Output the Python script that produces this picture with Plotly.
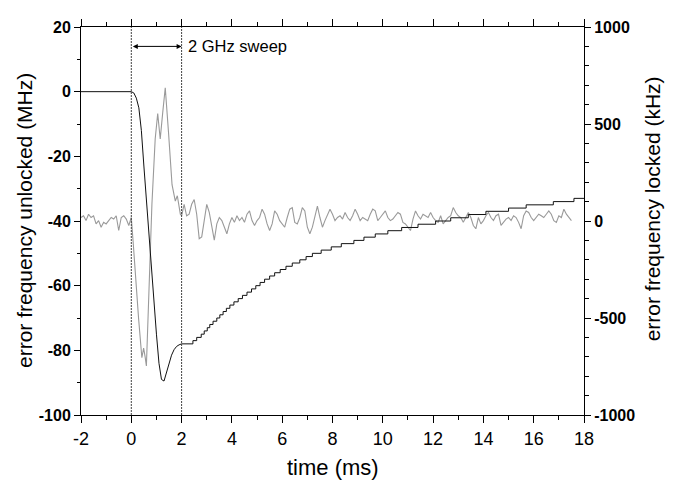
import plotly.graph_objects as go

# ---- data ----
# unlocked laser: error frequency in MHz (left axis)
unlocked_t = [-2.0, 0.0, 0.1, 0.2, 0.3, 0.4, 0.5, 0.6, 0.7, 0.8, 0.9, 1.0, 1.1,
              1.2, 1.3, 1.4, 1.5, 1.6, 1.7, 1.8, 1.9, 2.0]
unlocked_mhz = [0, 0, -0.4, -2, -5, -12, -23, -34, -45, -55, -65, -75, -84,
                -89, -89.5, -87, -84, -81.5, -79.8, -78.8, -78.3, -78]

step_t = [2.0, 2.45, 2.6, 2.78, 2.9, 3.02, 3.12, 3.25, 3.4, 3.52, 3.65, 3.78,
          3.92, 4.08, 4.25, 4.42, 4.6, 4.78, 4.95, 5.12, 5.3, 5.5, 5.7, 5.92,
          6.15, 6.4, 6.7, 6.95, 7.2, 7.55, 7.95, 8.35, 8.85, 9.25, 9.7, 10.2,
          10.75, 11.4, 12.1, 12.7, 13.4, 14.1, 15.0, 15.7, 16.78, 17.6, 18.0]
step_mhz = [-78, -77, -76, -75, -74, -73, -72, -71, -70, -69, -68, -67,
            -66, -65, -64, -63, -62, -61, -60, -59, -58, -57, -56, -55,
            -54, -53, -52, -51, -50, -49, -48, -47, -46, -45, -44, -43,
            -42, -41, -40, -39, -38, -37, -36, -35, -34, -33, -33]

# locked laser: error frequency in kHz (right axis)
dt = 0.1
pre_t0 = -2.0
locked_pre = [18, 27, 2, 35, 18, 27, -15, 2, -32, -7, -15, 2, 18, 10, 27, -49,
              18, 27, 10, -23, 18]
sweep_t = [0.08, 0.17, 0.29, 0.42, 0.49, 0.55, 0.6, 0.82, 0.95, 1.05, 1.15,
           1.25, 1.35, 1.48, 1.62, 1.75, 1.83, 1.95]
sweep_khz = [-120, -310, -503, -705, -655, -700, -747, 86, 423, 554, 423,
             560, 687, 456, 187, 103, 130, 35]
post_t0 = 2.0
locked_post = [27, 86, 27, 35, 86, 111, 35, -91, -82, 2,
               86, 44, -32, -99, -15, 18, 2, -32, -66, -15,
               18, -7, 27, 2, 18, -7, 35, 52, 2, -23,
               2, 18, 61, 35, -15, -49, -15, 52, 35, 2,
               -15, -32, 18, 61, 69, -7, -15, 18, 69, 52,
               -32, -66, -32, 27, 77, 18, -32, 2, 35, 61,
               35, 2, 18, 27, 10, 44, 18, 2, 27, 61,
               35, 2, 18, 10, 2, 35, 61, 52, 2, 18,
               35, 52, 18, 2, 10, 27, 44, 35, -7, -15,
               -32, -49, 10, 52, 27, 10, 35, 27, 18, 44,
               18, 2, -7, 27, -15, 2, 18, 27, 69, 44,
               27, 18, -7, 18, 44, 18, -23, -40, 18, -15,
               2, 27, 44, 18, 2, 27, 35, -23, -7, 10,
               18, 2, 27, 18, -7, -40, 27, 52, 44, 18,
               2, 18, 35, 27, 18, 35, 52, 35, 2, -7,
               27, 18, 61, 35, 18, 2]

locked_t = ([round(pre_t0 + dt * i, 2) for i in range(len(locked_pre))]
            + sweep_t
            + [round(post_t0 + dt * i, 2) for i in range(len(locked_post))])
locked_khz = locked_pre + sweep_khz + locked_post

# tick labels (plain hyphen minus, as in the original)
x_tickvals = [-2, 0, 2, 4, 6, 8, 10, 12, 14, 16, 18]
x_ticktext = ["-2", "0", "2", "4", "6", "8", "10", "12", "14", "16", "18"]
mhz_tickvals = [20, 0, -20, -40, -60, -80, -100]
mhz_ticktext = ["20", "0", "-20", "-40", "-60", "-80", "-100"]
khz_tickvals = [1000, 500, 0, -500, -1000]
khz_ticktext = ["1000", "500", "0", "-500", "-1000"]

sweep_start, sweep_end = 0, 2

fig = go.Figure()

# gray locked trace on the base (right, kHz) axis so the black one sits on top
fig.add_trace(go.Scatter(x=locked_t, y=locked_khz, mode="lines", yaxis="y",
                         line=dict(color="#9a9a9a", width=1.1)))
fig.add_trace(go.Scatter(x=unlocked_t, y=unlocked_mhz, mode="lines", yaxis="y2",
                         line=dict(color="#111111", width=1)))
fig.add_trace(go.Scatter(x=step_t, y=step_mhz, mode="lines", yaxis="y2",
                         line=dict(color="#111111", width=1, shape="hv")))

# sweep markers
for xv in (sweep_start, sweep_end):
    fig.add_shape(type="line", x0=xv, x1=xv, y0=0, y1=1, xref="x", yref="paper",
                  line=dict(color="#444444", width=1, dash="2px,1px"))

fig.add_annotation(x=sweep_end, y=14, ax=sweep_start, ay=14, xref="x", yref="y2",
                   axref="x", ayref="y2", text="", showarrow=True,
                   arrowhead=2, arrowside="end+start", arrowsize=1, arrowwidth=1,
                   arrowcolor="black")
fig.add_annotation(x=sweep_end, y=14, xref="x", yref="y2", text="2 GHz sweep",
                   showarrow=False, xanchor="left", yanchor="middle", xshift=4,
                   font=dict(family="Liberation Sans, Arial", size=16.5, color="black"))

# axis titles
title_font = dict(family="Liberation Sans, Arial", size=21, color="black")
fig.add_annotation(text="error frequency unlocked (MHz)", xref="paper", yref="paper",
                   x=0, y=0.5, xshift=-57, xanchor="center", yanchor="middle",
                   textangle=-90, showarrow=False, font=title_font)
fig.add_annotation(text="error frequency locked (kHz)", xref="paper", yref="paper",
                   x=1, y=0.53, xshift=68, xanchor="center", yanchor="middle",
                   textangle=-90, showarrow=False, font=title_font)
fig.add_annotation(text="time (ms)", xref="paper", yref="paper",
                   x=0.5, y=0, yshift=-52, xanchor="center", yanchor="middle",
                   showarrow=False,
                   font=dict(family="Liberation Sans, Arial", size=22, color="black"))

bold_ticks = dict(family="Liberation Sans, Arial", size=16, color="black", weight="bold")

# the page adds an 8 px body margin, so the figure is 8 px smaller each way
fig.update_layout(
    width=665, height=472,
    margin=dict(l=73, r=89, t=11, b=65),
    plot_bgcolor="white", paper_bgcolor="white",
    showlegend=False,
    xaxis=dict(range=[-2, 18], tickvals=x_tickvals, ticktext=x_ticktext,
               showgrid=False, zeroline=False,
               showline=True, linecolor="black", linewidth=1, mirror="ticks",
               ticks="outside", ticklen=7, tickwidth=1, tickcolor="black",
               minor=dict(dtick=1, ticks="outside", ticklen=4, tickwidth=1,
                          tickcolor="black"),
               tickfont=dict(family="Liberation Sans, Arial", size=18,
                             color="black")),
    yaxis=dict(side="right", range=[-1000, 1000], tickvals=khz_tickvals,
               ticktext=khz_ticktext,
               showgrid=False, zeroline=False, showline=True, linecolor="black",
               linewidth=1, ticks="outside", ticklen=6, tickwidth=1,
               tickcolor="black",
               minor=dict(dtick=100, ticks="outside", ticklen=4, tickwidth=1,
                          tickcolor="black"),
               tickfont=bold_ticks),
    yaxis2=dict(overlaying="y", side="left", range=[-100, 20],
                tickvals=mhz_tickvals, ticktext=mhz_ticktext,
                showgrid=False, zeroline=False, showline=True, linecolor="black",
                linewidth=1, ticks="outside", ticklen=6, tickwidth=1,
                tickcolor="black",
                minor=dict(dtick=10, ticks="outside", ticklen=3, tickwidth=1,
                           tickcolor="black"),
                tickfont=bold_ticks),
)

fig.write_html("out.html")
